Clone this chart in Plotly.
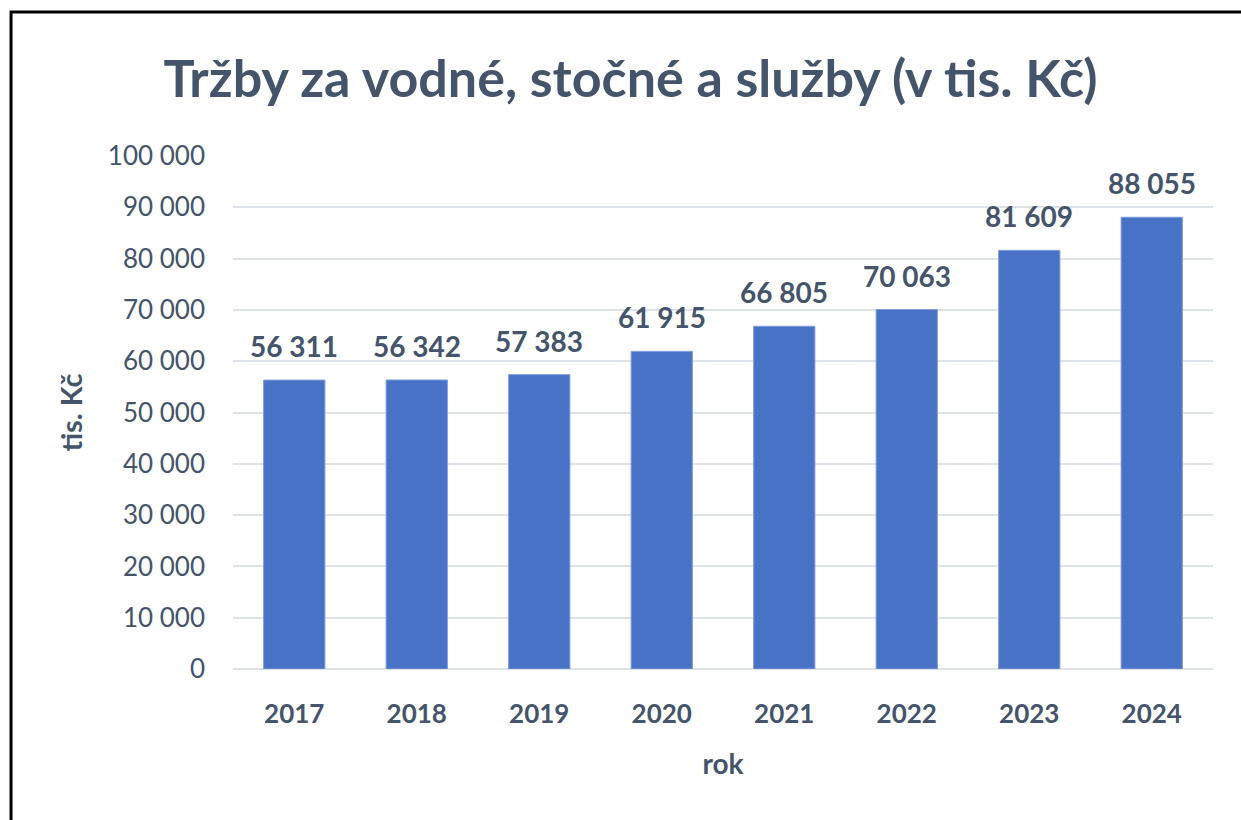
import plotly.graph_objects as go

years = ["2017", "2018", "2019", "2020", "2021", "2022", "2023", "2024"]
revenue = [56311, 56342, 57383, 61915, 66805, 70063, 81609, 88055]
y_ticks = list(range(0, 100001, 10000))

TEXT = "#44546a"
FONT = "Lato"

fig = go.Figure()
fig.add_bar(
    x=years,
    y=revenue,
    marker=dict(color="#4872c6", line=dict(color="#7e9bd9", width=1)),
    hoverinfo="x+y",
)

# data labels sit well above the bar tops, like the Excel original.
# x is the category index: numeric-looking strings would be read as numbers
for i, val in enumerate(revenue):
    fig.add_annotation(
        x=i, y=val, text=f"{val:,}".replace(",", " "),
        showarrow=False, yanchor="bottom", yshift=15,
        font=dict(family=FONT, size=28, color=TEXT, weight="bold"),
    )

# frame of the cropped chart area (only left and top edges visible)
fig.add_shape(
    type="rect", xref="paper", yref="paper",
    x0=-0.2265, x1=1.1, y0=-0.35, y1=1.2807,
    line=dict(color="black", width=3), layer="above",
)

fig.update_layout(
    width=1241,
    height=820,
    margin=dict(l=233, r=28, t=156, b=151),
    paper_bgcolor="white",
    plot_bgcolor="white",
    separators=", ",
    bargap=0.5,
    showlegend=False,
    font=dict(family=FONT, color=TEXT),
    title=dict(
        text="<b>Tržby za vodné, stočné a služby (v tis. Kč)</b>",
        x=0.508, xanchor="center", y=0.904, yanchor="middle",
        font=dict(family=FONT, size=52, color=TEXT),
    ),
    xaxis=dict(
        type="category",
        title=dict(text="<b>rok</b>", font=dict(size=28, color=TEXT), standoff=26),
        tickfont=dict(size=26, color=TEXT, weight="bold"),
        showgrid=False, showline=False, ticks="", ticklabelstandoff=27,
    ),
    yaxis=dict(
        title=dict(text="<b>tis. Kč</b>", font=dict(size=29, color=TEXT), standoff=16),
        range=[0, 100000],
        tickvals=y_ticks,
        tickformat=",d",
        tickfont=dict(size=26, color=TEXT),
        gridcolor="#dde1e8", gridwidth=2,
        zeroline=True, zerolinecolor="#dde1e8", zerolinewidth=2,
        ticks="", ticklabelstandoff=27,
    ),
)

fig.write_html(
    "out.html",
    config={"displayModeBar": False},
    post_script="document.body.style.margin = '0';",
)
